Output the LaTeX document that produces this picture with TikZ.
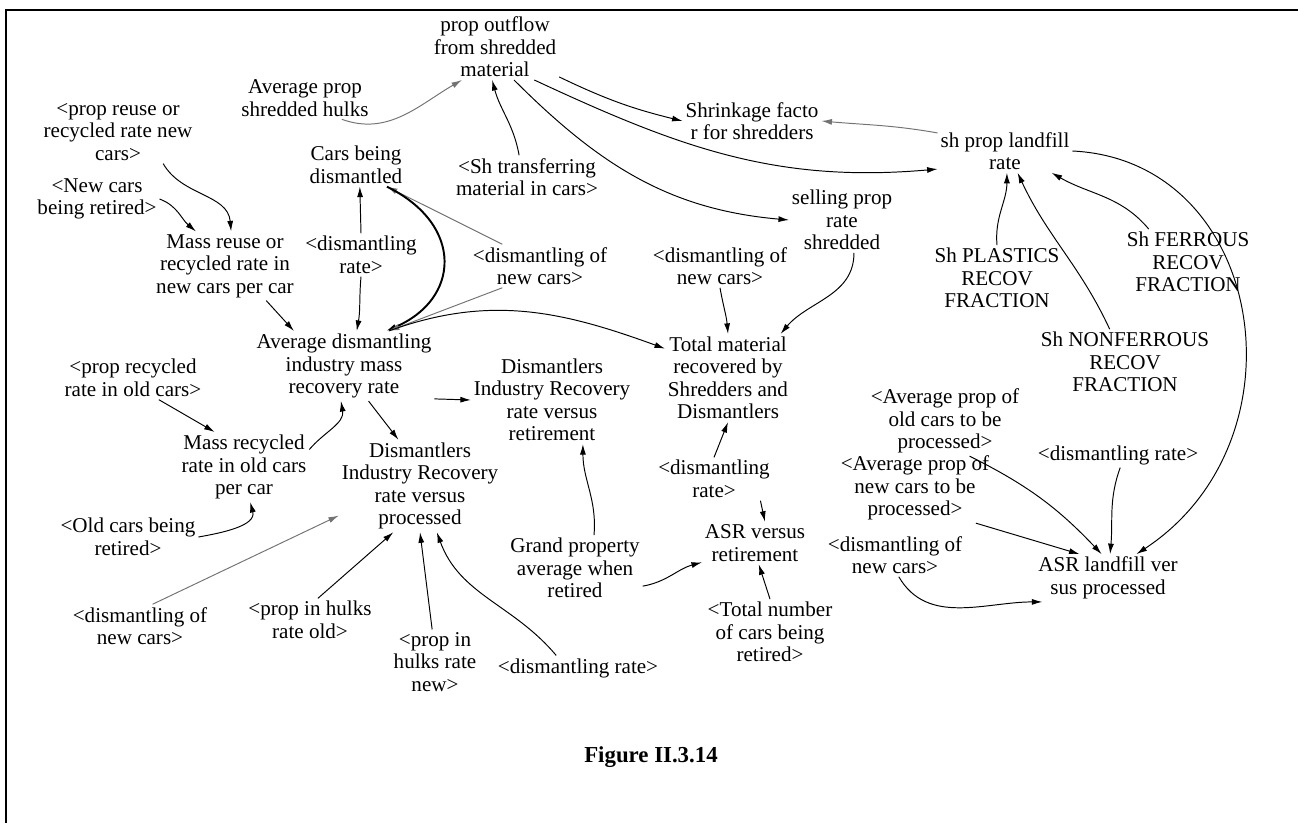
\documentclass[tikz,border=0pt]{standalone}
\usepackage{fontspec}
\setmainfont{Liberation Serif}
\usetikzlibrary{arrows.meta}

\begin{document}
\begin{tikzpicture}[
    x=0.02cm, y=0.02cm,
    font=\fontsize{12}{12.8}\selectfont,
    simpul/.style={align=center, inner sep=1.5pt},
    panah/.style={-{Latex[length=2.1mm, width=1.2mm]}, line width=0.55pt},
    samar/.style={panah, black!55},
    tebal/.style={panah, line width=1.1pt}
  ]
    \useasboundingbox (0,0) rectangle (1298,-823);
    \draw[line width=1.4pt] (6,-823) -- (6,-10) -- (1298,-10);

    % top row
    \node[simpul] (pof) at (495,-47) {prop outflow\\from shredded\\material};
    \node[simpul] (aps) at (305,-98) {Average prop\\shredded hulks};
    \node[simpul] (prr) at (118,-132) {<prop reuse or\\recycled rate new\\cars>};
    \node[simpul] (cbd) at (356,-165) {Cars being\\dismantled};
    \node[simpul] (sht) at (527,-177) {<Sh transferring\\material in cars>};
    \node[simpul] (shk) at (752,-121) {Shrinkage facto\\r for shredders};
    \node[simpul] (spl) at (1005,-151) {sh prop landfill\\rate};
    \node[simpul] (ncr) at (97,-199) {<New cars\\being retired>};
    \node[simpul] (mrn) at (225,-266) {Mass reuse or\\recycled rate in\\new cars per car};
    \node[simpul] (dr1) at (361,-255) {<dismantling\\rate>};
    \node[simpul] (dn1) at (540,-266) {<dismantling of\\new cars>};
    \node[simpul] (dn2) at (720,-266) {<dismantling of\\new cars>};
    \node[simpul] (spr) at (842,-220) {selling prop\\rate\\shredded};
    \node[simpul] (spf) at (997,-278) {Sh PLASTICS\\RECOV\\FRACTION};
    \node[simpul] (sff) at (1188,-262) {Sh FERROUS\\RECOV\\FRACTION};
    \node[simpul] (snf) at (1125,-362) {Sh NONFERROUS\\RECOV\\FRACTION};

    % middle
    \node[simpul] (adm) at (344,-366) {Average dismantling\\industry mass\\recovery rate};
    \node[simpul] (dir) at (552,-400) {Dismantlers\\Industry Recovery\\rate versus\\retirement};
    \node[simpul] (tmr) at (728,-378) {Total material\\recovered by\\Shredders and\\Dismantlers};
    \node[simpul] (prc) at (133,-378) {<prop recycled\\rate in old cars>};
    \node[simpul] (mro) at (244,-467) {Mass recycled\\rate in old cars\\per car};
    \node[simpul] (dip) at (420,-486) {Dismantlers\\Industry Recovery\\rate versus\\processed};
    \node[simpul] (aon) at (945,-421) {<Average prop of\\old cars to be\\processed>};
    \node[simpul] (anw) at (915,-488) {<Average prop of\\new cars to be\\processed>};
    \node[simpul] (dr2) at (714,-479) {<dismantling\\rate>};
    \node[simpul] (dr3) at (1118,-455) {<dismantling rate>};

    % bottom
    \node[simpul] (ocr) at (128,-537) {<Old cars being\\retired>};
    \node[simpul] (asr) at (755,-543) {ASR versus\\retirement};
    \node[simpul] (dn4) at (895,-555) {<dismantling of\\new cars>};
    \node[simpul] (gpa) at (575,-568) {Grand property\\average when\\retired};
    \node[simpul] (asl) at (1108,-578) {ASR landfill ver\\sus processed};
    \node[simpul] (dn3) at (140,-626) {<dismantling of\\new cars>};
    \node[simpul] (pho) at (310,-620) {<prop in hulks\\rate old>};
    \node[simpul] (phn) at (435,-662) {<prop in\\hulks rate\\new>};
    \node[simpul] (dr4) at (578,-668) {<dismantling rate>};
    \node[simpul] (tnc) at (770,-632) {<Total number\\of cars being\\retired>};
    \node[simpul, font=\fontsize{13}{15}\selectfont\bfseries] (fig) at (651,-757) {Figure II.3.14};

    % links
    \draw[samar] (aps.-30) to[out=-20, in=210] (pof.225);
    \draw[panah] (sht.110) to[out=100, in=-75] (pof.-95);
    \draw[panah] (pof.-25) to[bend right=6] (shk.west);
    \draw[panah] (pof.-40) to[out=-25, in=185] (spl.195);
    \draw[panah] (pof.-60) to[out=-45, in=175] (spr.west);
    \draw[samar] (spl.165) to[out=170, in=-5] (shk.east);
    \draw[panah] (spf.north) to[out=95, in=-90] (spl.-85);
    \draw[panah] (snf.115) to[out=115, in=-65] (spl.-60);
    \draw[panah] (sff.140) to[out=130, in=-30] (spl.-25);
    \draw[panah] (spl.east) .. controls (1265,-160) and (1310,-440) .. (asl.40);
    \draw[panah] (prr.-35) to[out=-60, in=95] (mrn.80);
    \draw[panah] (ncr.east) to[out=-20, in=140] (mrn.130);
    \draw[panah] (dr1.north) -- (cbd.-80);
    \draw[panah] (dr1.south) to[out=-95, in=80] (adm.70);
    \draw[samar] (dn1.150) -- (cbd.-35);
    \draw[tebal] (cbd.-35) .. controls (465,-225) and (460,-300) .. (adm.40);
    \draw[samar] (dn1.-150) -- (adm.38);
    \draw[panah] (adm.38) to[out=20, in=160] (tmr.155);
    \draw[panah] (mrn.-40) -- (adm.145);
    \draw[panah] (prc.-40) -- (mro.130);
    \draw[panah] (mro.15) to[out=50, in=-80] (adm.-95);
    \draw[panah] (adm.-55) -- (dip.115);
    \draw[panah] (adm.-20) -- (dir.west);
    \draw[panah] (ocr.east) to[out=10, in=-75] (mro.-80);
    \draw[samar] (dn3.60) -- (dip.200);
    \foreach \s/\a/\b in {pho/70/240, phn/95/-90}
      \draw[panah] (\s.\a) -- (dip.\b);
    \draw[panah] (dr4.150) to[out=130, in=-70] (dip.-70);
    \draw[panah] (dn2.south) to[out=-80, in=95] (tmr.north);
    \draw[panah] (spr.-70) to[out=-90, in=50] (tmr.40);
    \draw[panah] (dr2.north) -- (tmr.-90);
    \draw[panah] (dr2.-25) -- (asr.65);
    \draw[panah] (gpa.60) to[out=85, in=-90] (dir.-55);
    \draw[panah] (gpa.-15) to[out=10, in=195] (asr.200);
    \draw[panah] (tnc.north) -- (asr.-80);
    \draw[panah] (dn4.-80) to[out=-60, in=180] (asl.-160);
    \draw[panah] (aon.-55) to[bend left=10] (asl.105);
    \draw[panah] (anw.-30) -- (asl.140);
    \draw[panah] (dr3.-80) to[out=-110, in=85] (asl.85);
\end{tikzpicture}
\end{document}
